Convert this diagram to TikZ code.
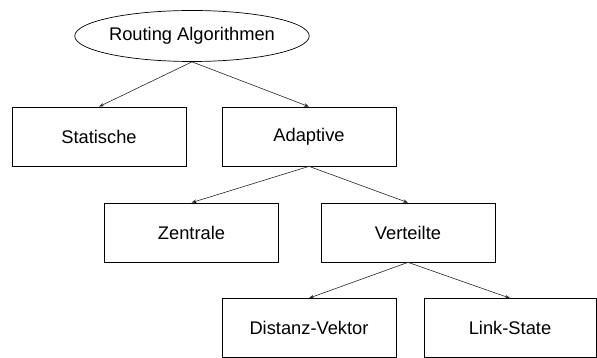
\documentclass[tikz,border=0pt]{standalone}
\usepackage{fontspec}
\setmainfont{Liberation Sans}
\usetikzlibrary{shapes.geometric,arrows.meta}
\tikzset{
  treebox/.style={draw=black, line width=0.7pt, rectangle, minimum width=174pt,
    minimum height=59pt, inner sep=0pt, font=\fontsize{18.3}{20}\selectfont},
  rootoval/.style={draw=black, line width=0.7pt, ellipse, minimum width=200pt,
    minimum height=51pt, inner sep=0pt, font=\fontsize{18.3}{20}\selectfont},
  edge/.style={draw=black!85, line width=0.6pt, -{Stealth[length=5pt,width=3.5pt]}}
}
\begin{document}
\begin{tikzpicture}[x=1pt,y=-1pt]
  \useasboundingbox (0,0) rectangle (597,358);
  \node[rootoval] (root) at (192,36) {Routing Algorithmen};
  \node[treebox] (stat) at (99,136.5) {Statische};
  \node[treebox] (adap) at (309,136.5) {Adaptive};
  \node[treebox] (zent) at (191.5,232.5) {Zentrale};
  \node[treebox] (vert) at (408,232.5) {Verteilte};
  \node[treebox] (dist) at (309,328) {Distanz-Vektor};
  \node[treebox, minimum width=172pt] (link) at (510,328) {Link-State};
  \draw[edge] (root.south) -- (stat.north);
  \draw[edge] (root.south) -- (adap.north);
  \draw[edge] (adap.south) -- (zent.north);
  \draw[edge] (adap.south) -- (vert.north);
  \draw[edge] (vert.south) -- (dist.north);
  \draw[edge] (vert.south) -- (link.north);
\end{tikzpicture}
\end{document}
